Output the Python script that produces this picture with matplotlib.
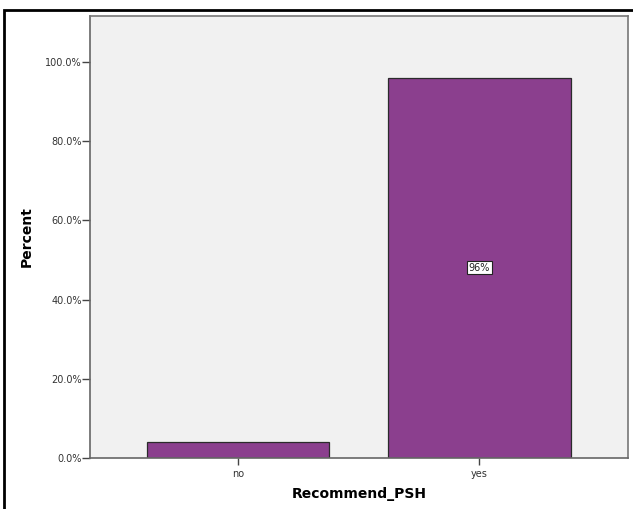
import matplotlib.pyplot as plt
from matplotlib.patches import Rectangle

categorias = ["no", "yes"]
porcentajes = [4.0, 96.0]
etiqueta_barra = ["", "96%"]
yticks = [0, 20, 40, 60, 80, 100]

fig = plt.figure(figsize=(6.33, 5.09), dpi=100)
ax = fig.add_axes([90 / 633, 1 - 458 / 509, 538 / 633, 442 / 509])
ax.set_facecolor("#f1f1f1")

x = range(len(categorias))
barras = ax.bar(x, porcentajes, width=0.755, color="#8b3f8e",
                edgecolor="#2b2b2b", linewidth=0.9, zorder=2)

# etiqueta dentro de la barra grande
for b, txt in zip(barras, etiqueta_barra):
    if txt:
        ax.text(b.get_x() + b.get_width() / 2, b.get_height() / 2, txt,
                ha="center", va="center", fontsize=7, color="#222222",
                bbox=dict(boxstyle="square,pad=0.15", fc="white",
                          ec="#222222", lw=0.8), zorder=3)

ax.set_xlim(-0.612, 1.615)
ax.set_ylim(0, 111.6)
ax.set_xticks(list(x))
ax.set_xticklabels(categorias, fontsize=7, color="#333333")
ax.set_yticks(yticks)
ax.set_yticklabels([f"{v:.1f}%" for v in yticks], fontsize=7, color="#333333")
ax.tick_params(axis="y", length=5.5, width=1, color="#444444", pad=0.5)
ax.tick_params(axis="x", length=5, width=1, color="#444444", pad=3)

for s in ax.spines.values():
    s.set_color("#777777")
    s.set_linewidth(1.2)
ax.spines["left"].set_color("#666666")
ax.spines["bottom"].set_color("#666666")

ax.set_ylabel("Percent", fontsize=10, fontweight="bold", labelpad=8)
ax.set_xlabel("Recommend_PSH", fontsize=10, fontweight="bold", labelpad=6)

# marco exterior
fig.patches.append(Rectangle((4 / 633, -0.05), 1.0, 1 - 10 / 509 + 0.05,
                             transform=fig.transFigure, fill=False,
                             ec="black", lw=2))

fig.savefig("out.png", dpi=100)
